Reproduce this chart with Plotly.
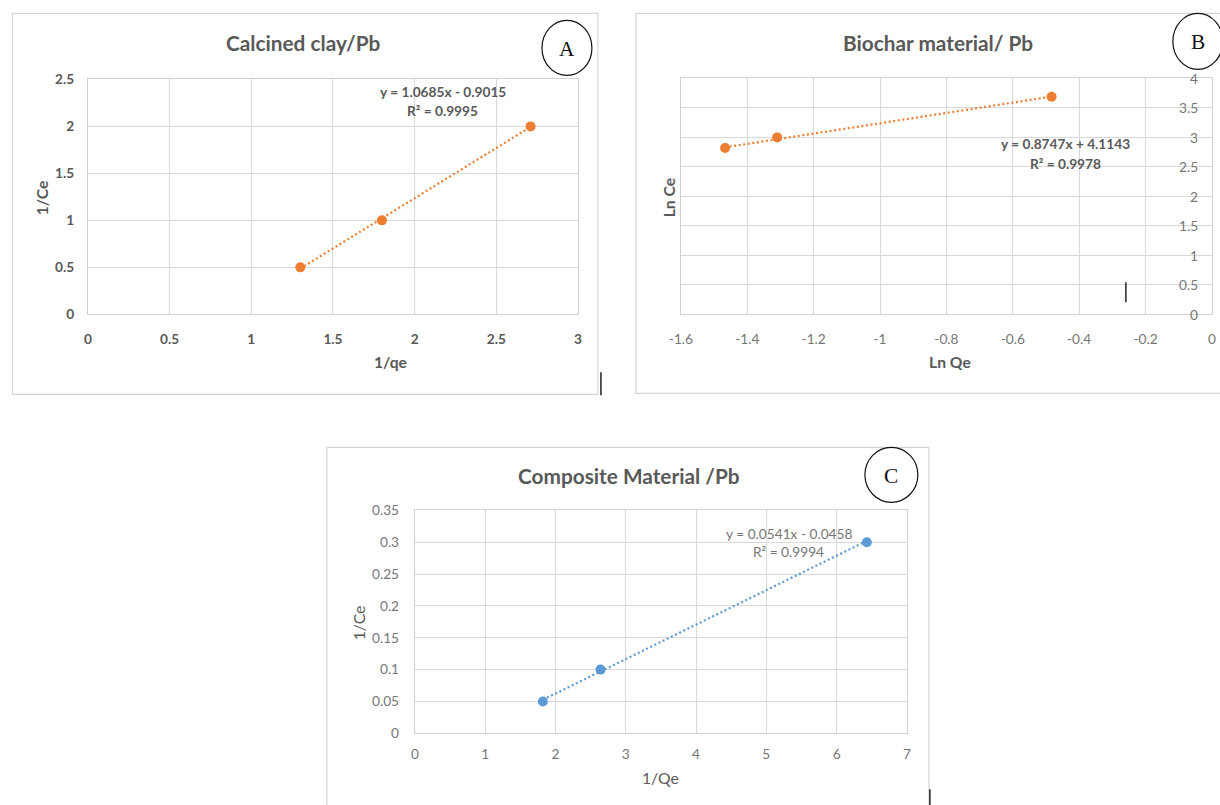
import plotly.graph_objects as go

# ---- data -------------------------------------------------------------
# Panel A: Calcined clay / Pb (Langmuir-type linearisation)
a_x = [1.30, 1.80, 2.71]
a_y = [0.50, 1.00, 2.00]
a_slope, a_icpt, a_r2 = 1.0685, -0.9015, 0.9995

# Panel B: Biochar material / Pb (Freundlich-type linearisation)
b_x = [-1.467, -1.31, -0.483]
b_y = [2.82, 3.00, 3.69]
b_slope, b_icpt, b_r2 = 0.8747, 4.1143, 0.9978

# Panel C: Composite material / Pb
c_x = [1.82, 2.64, 6.43]
c_y = [0.05, 0.10, 0.30]
c_slope, c_icpt, c_r2 = 0.0541, -0.0458, 0.9994

a_xticks = [0, 0.5, 1, 1.5, 2, 2.5, 3]
a_yticks = [0, 0.5, 1, 1.5, 2, 2.5]
b_xticks = [-1.6, -1.4, -1.2, -1, -0.8, -0.6, -0.4, -0.2, 0]
b_yticks = [0, 0.5, 1, 1.5, 2, 2.5, 3, 3.5, 4]
c_xticks = [0, 1, 2, 3, 4, 5, 6, 7]
c_yticks = [0, 0.05, 0.1, 0.15, 0.2, 0.25, 0.3, 0.35]

ORANGE = "#ED7D31"
BLUE = "#5B9BD5"
GREY_TXT = "#595959"
GREY_LIGHT = "#767676"
GRID = "#d9d9d9"
FONT = "Lato, 'Noto Sans', sans-serif"

W, H = 1220, 805
# layout positions below are given in page pixels; the page shows the figure
# with a small offset and a slight shrink, which these constants undo
OX, OY = 11.0, 8.6
SX, SY = 0.987, 0.979


def px(x):
    return max((x - OX) / SX, 0.5) / W


def py(y):
    return 1 - max((y - OY) / SY, 0.5) / H


def fs(size):
    return round(size / SX, 1)


def fmt_eq(m, b):
    sign = "+" if b >= 0 else "-"
    return f"y = {m:.4f}x {sign} {abs(b):.4f}"


fig = go.Figure()


def add_series(xs, ys, m, b, color, xa, ya):
    lo, hi = min(xs), max(xs)
    fig.add_trace(go.Scatter(
        x=[lo, hi], y=[m * lo + b, m * hi + b], mode="lines",
        line=dict(color=color, width=2.2, dash="2px,2.6px"),
        xaxis=xa, yaxis=ya, hoverinfo="skip", showlegend=False))
    fig.add_trace(go.Scatter(
        x=xs, y=ys, mode="markers",
        marker=dict(color=color, size=10, line=dict(width=0)),
        xaxis=xa, yaxis=ya, showlegend=False))


add_series(a_x, a_y, a_slope, a_icpt, ORANGE, "x", "y")
add_series(b_x, b_y, b_slope, b_icpt, ORANGE, "x2", "y2")
add_series(c_x, c_y, c_slope, c_icpt, BLUE, "x3", "y3")


def axis(domain, rng, ticks, anchor, bold, color=GREY_TXT, **kw):
    d = dict(domain=domain, range=rng, tickvals=ticks,
             ticktext=[f"{t:g}" for t in ticks],
             showgrid=True, gridcolor=GRID, gridwidth=1.3,
             zeroline=False, showline=True, linecolor="#d0d0d0",
             linewidth=1.3, mirror=True, ticks="", anchor=anchor,
             tickfont=dict(family=FONT, size=fs(13.5), color=color,
                           weight="bold" if bold else "normal"),
             fixedrange=True)
    d.update(kw)
    return d


fig.update_layout(
    width=W, height=H,
    margin=dict(l=0, r=0, t=0, b=0),
    paper_bgcolor="white", plot_bgcolor="white",
    xaxis=axis([px(87), px(577)], [0, 3], a_xticks, "y", True,
               ticklabelstandoff=12),
    yaxis=axis([py(314), py(79)], [0, 2.5], a_yticks, "x", True,
               ticklabelstandoff=10),
    xaxis2=axis([px(680), px(1211)], [-1.6, 0], b_xticks, "y2", False,
                color=GREY_LIGHT, ticklabelstandoff=12),
    yaxis2=axis([py(314), py(78)], [0, 4], b_yticks, "x2", False,
                side="right", showticklabels=False),
    xaxis3=axis([px(414), px(906)], [0, 7], c_xticks, "y3", False,
                color=GREY_LIGHT, ticklabelstandoff=8),
    yaxis3=axis([py(733), py(510)], [0, 0.35], c_yticks, "x3", False,
                color=GREY_LIGHT, ticklabelstandoff=12),
)

shapes = []
# panel frames
for x0, y0, x1, y1 in [(9, 13, 597, 394), (635, 13, 1240, 393), (326, 447, 928, 830)]:
    shapes.append(dict(type="rect", xref="paper", yref="paper",
                       x0=px(x0), x1=px(x1), y0=py(y1), y1=py(y0),
                       line=dict(color="#d4d4d4", width=1.2), layer="below"))
# circled panel letters
circles = [(541, 20, 591, 75), (1172, 13, 1222, 69), (864, 447, 917, 502)]
for x0, y0, x1, y1 in circles:
    shapes.append(dict(type="circle", xref="paper", yref="paper",
                       x0=px(x0), x1=px(x1), y0=py(y1), y1=py(y0),
                       line=dict(color="#111111", width=1.2)))
# text-cursor marks
for x, y0, y1 in [(600, 372, 395), (1125, 282, 302), (929, 789, 815)]:
    shapes.append(dict(type="line", xref="paper", yref="paper",
                       x0=px(x), x1=px(x), y0=py(y1), y1=py(y0),
                       line=dict(color="#222222", width=1.5)))
fig.update_layout(shapes=shapes)

ann = []


def text(x, y, s, size, bold=True, color=GREY_TXT, angle=0, family=FONT):
    ann.append(dict(xref="paper", yref="paper", x=px(x), y=py(y), text=s,
                    showarrow=False, xanchor="center", yanchor="middle",
                    textangle=angle,
                    font=dict(family=family, size=fs(size), color=color,
                              weight="bold" if bold else "normal")))


# titles
text(303, 42, "Calcined clay/Pb", 20.5)
text(937, 42, "Biochar material/ Pb", 20.5)
text(628, 475, "Composite Material /Pb", 20.5)
# letters
for (x0, y0, x1, y1), s in zip(circles, ["A", "B", "C"]):
    text((x0 + x1) / 2, (y0 + y1) / 2 + 1, s, 21, bold=False, color="#111111",
         family="'Liberation Serif', 'DejaVu Serif', serif")
# axis titles
text(41, 197, "1/Ce", 15.5, angle=-90)
text(390, 362, "1/qe", 15.5)
text(668, 197, "Ln Ce", 15.5, angle=-90)
text(949, 362, "Ln Qe", 15.5)
text(358, 622, "1/Ce", 15.5, bold=False, angle=-90)
text(660, 778, "1/Qe", 15.5, bold=False)
# trendline equations
text(442, 91, fmt_eq(a_slope, a_icpt), 13.5)
text(442, 110, f"R² = {a_r2}", 13.5)
text(1065, 143, fmt_eq(b_slope, b_icpt), 13.5)
text(1065, 163, f"R² = {b_r2}", 13.5)
text(788, 533, fmt_eq(c_slope, c_icpt), 13.5, bold=False, color=GREY_LIGHT)
text(788, 551, f"R² = {c_r2}", 13.5, bold=False, color=GREY_LIGHT)

# Panel B value labels sit just inside the right-hand axis at x = 0
for t in b_yticks:
    ann.append(dict(xref="x2", yref="y2", x=0, y=t, text=f"{t:g}",
                    showarrow=False, xanchor="right", yanchor="middle",
                    xshift=-12,
                    font=dict(family=FONT, size=fs(13.5), color=GREY_LIGHT)))

fig.update_layout(annotations=ann)

fig.write_html("out.html")
